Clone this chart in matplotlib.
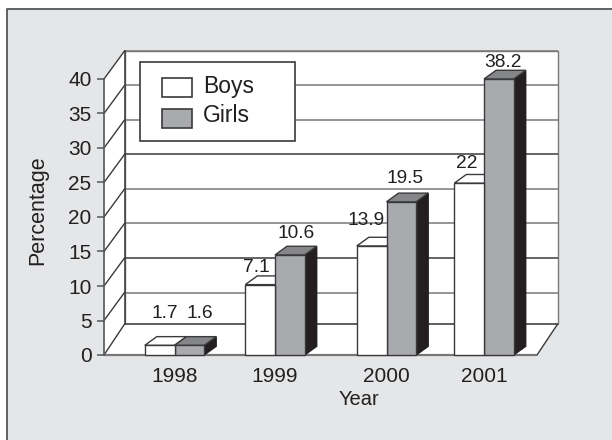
import matplotlib
matplotlib.use("Agg")
import matplotlib.pyplot as plt
from matplotlib.patches import Polygon, Rectangle

years = ["1998", "1999", "2000", "2001"]
year_pos = [174.5, 275, 386.5, 484]
# bar heights as drawn on the axis; the printed labels differ from them
boys = [1.4, 10.2, 15.8, 24.9]
girls = [1.4, 14.5, 22.2, 40]
boys_labels = ["1.7", "7.1", "13.9", "22"]
girls_labels = ["1.6", "10.6", "19.5", "38.2"]
yticks = [0, 5, 10, 15, 20, 25, 30, 35, 40]
dark_grid = [0, 10, 25]

W, H = 612, 440
X0, X1 = 104, 537
Y0, Y40 = 355, 79
BAR_W = 29.7
PX_PER_UNIT = (Y0 - Y40) / 40
WALL_DX = 20.5  # depth of the box, px
WALL_DY = 28 / PX_PER_UNIT  # same depth, in axis units
BAR_DX = 12
BAR_DY = 8.7 / PX_PER_UNIT

# label placement: x centre and px above the front top edge of the bar
boys_label_x = [165, 256.7, 366, 467]
girls_label_x = [200, 295.7, 405, 503]
boys_label_off = [27.6, 12.6, 21, 15]
girls_label_off = [27.6, 17, 18.7, 12]

BG = "#e5e6e8"
LINE = "#3a3a3c"
GRID = "#77787a"
GIRLS = "#a9aaad"
GIRLS_TOP = "#858688"
SIDE = "#231f20"

plt.rcParams["font.family"] = ["Liberation Sans", "DejaVu Sans"]

fig = plt.figure(figsize=(W / 100, H / 100), dpi=100, facecolor="white")


def fig_rect(x, y, w, h, fc, ec, lw=1.2, z=7):
    fig.add_artist(Rectangle((x / W, 1 - (y + h) / H), w / W, h / H, transform=fig.transFigure,
                             facecolor=fc, edgecolor=ec, linewidth=lw, zorder=z))


# grey panel with a rule on top and left only
fig_rect(7, 9, W - 7, H - 9, BG, "none", lw=0, z=-2)
fig.add_artist(plt.Line2D([7 / W, 7 / W, 1], [0, 1 - 9 / H, 1 - 9 / H], color="#555658", lw=1.3,
                          transform=fig.transFigure, zorder=-1))

ax = fig.add_axes([0, 1 - Y0 / H, 1, (Y0 - Y40) / H])
ax.set_xlim(0, W)
ax.set_ylim(0, 40)
ax.patch.set_visible(False)
for name in ["top", "right", "bottom"]:
    ax.spines[name].set_visible(False)
ax.spines["left"].set_position(("data", X0))
ax.spines["left"].set_color("#555658")
ax.spines["left"].set_linewidth(1.2)


def poly(points, fc, ec=LINE, lw=1.0, z=2):
    ax.add_patch(Polygon(points, closed=True, facecolor=fc, edgecolor=ec,
                         linewidth=lw, zorder=z, clip_on=False, joinstyle="miter"))


def hline(x0, x1, y, color=GRID, lw=1.1, z=1.5):
    ax.plot([x0, x1], [y, y], color=color, lw=lw, zorder=z, clip_on=False,
            solid_capstyle="butt")


# walls and floor
top = 40 + WALL_DY
floor = WALL_DY + 0.4
poly([(X0 + WALL_DX, floor), (X1 + WALL_DX, floor), (X1 + WALL_DX, top), (X0 + WALL_DX, top)],
     "white", ec=GRID, z=1)
poly([(X0, 0), (X0 + WALL_DX, floor), (X0 + WALL_DX, top), (X0, 40)], "white", ec="none", z=1)
poly([(X0, 0), (X1, 0), (X1 + WALL_DX, floor), (X0 + WALL_DX, floor)], "white", ec="none", z=1)
ax.plot([X0 + WALL_DX, X0 + WALL_DX], [floor, top], color=LINE, lw=1.1, zorder=1.6, clip_on=False)
ax.plot([X1, X1 + WALL_DX], [0, floor], color=LINE, lw=1.0, zorder=1.6, clip_on=False)

for v in yticks:
    back = v + WALL_DY if v else floor
    color = LINE if v in dark_grid else GRID
    hline(X0 + WALL_DX, X1 + WALL_DX, back, color=color)
    ax.plot([X0, X0 + WALL_DX], [v, back], color=LINE, lw=1.0, zorder=1.5, clip_on=False)
hline(X0, X1, 0, color=GRID, lw=1.6, z=1.8)


def box_top(x0, x1, val, fc, z):
    poly([(x0, val), (x1, val), (x1 + BAR_DX, val + BAR_DY), (x0 + BAR_DX, val + BAR_DY)], fc, z=z)


for i in range(len(years)):
    c = year_pos[i]
    # girls bar: side, top, front
    x1 = c + BAR_W
    poly([(x1, 0), (x1 + BAR_DX, BAR_DY), (x1 + BAR_DX, girls[i] + BAR_DY), (x1, girls[i])],
         SIDE, ec=SIDE, z=3)
    box_top(c, x1, girls[i], GIRLS_TOP, 3)
    poly([(c, 0), (x1, 0), (x1, girls[i]), (c, girls[i])], GIRLS, z=4)
    # boys bar: its side is hidden by the girls bar
    x0 = c - BAR_W
    box_top(x0, c, boys[i], "white", 2.5)
    poly([(x0, 0), (c, 0), (c, boys[i]), (x0, boys[i])], "white", z=4)

    ax.text(boys_label_x[i], boys[i] + boys_label_off[i] / PX_PER_UNIT, boys_labels[i],
            ha="center", va="baseline", fontsize=13.8, color=SIDE, zorder=6)
    ax.text(girls_label_x[i], girls[i] + girls_label_off[i] / PX_PER_UNIT, girls_labels[i],
            ha="center", va="baseline", fontsize=13.8, color=SIDE, zorder=6)

ax.set_yticks(yticks)
ax.tick_params(axis="y", length=5, width=1.1, color="#555658", labelsize=15, labelcolor=SIDE, pad=4)
ax.set_xticks(year_pos)
ax.set_xticklabels(years)
ax.tick_params(axis="x", length=0, labelsize=15, labelcolor=SIDE, pad=9)
ax.set_xlabel("Year", fontsize=14.5, color=SIDE)
ax.xaxis.set_label_coords(359 / W, -(390 - Y0) / (Y0 - Y40))
ax.set_ylabel("Percentage", fontsize=15.5, color=SIDE, va="center")
ax.yaxis.set_label_coords(38 / W, (Y0 - 210) / (Y0 - Y40))

# legend box
fig_rect(140, 62, 155, 79, "white", LINE)
fig_rect(162, 78, 30, 19, "white", LINE)
fig_rect(162, 109, 30, 19, GIRLS, LINE)
fig.text(203 / W, 1 - 87 / H, "Boys", fontsize=16.5, va="center", color=SIDE, zorder=8)
fig.text(203 / W, 1 - 115 / H, "Girls", fontsize=16.5, va="center", color=SIDE, zorder=8)

fig.savefig("out.png", dpi=100)
